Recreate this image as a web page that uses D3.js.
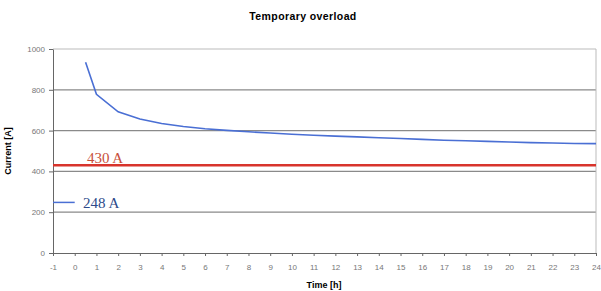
<!DOCTYPE html>
<meta charset="utf-8">
<style>
body { margin: 0; background: #fff; }
text { font-family: Arial, "Liberation Sans", sans-serif; }
.axis .domain { stroke: #666; }
.axis line { stroke: #666; }
.axis text { fill: #777; font-size: 8px; }
</style>
<body>
<svg width="601" height="291" id="chart"></svg>
<script src="https://d3js.org/d3.v7.min.js"></script>
<script>
// time [h] and current [A] of the overload curve
var hours = [0.5, 1, 2, 3, 4, 5, 6, 7, 8, 9, 10, 11, 12, 13, 14, 15, 16, 17, 18, 19, 20, 21, 22, 23, 24];
var current = [935, 778, 692, 657, 635, 620, 609, 601, 594, 588, 582, 577, 573, 569, 565, 561, 557, 553, 550, 547, 544, 541, 539, 537, 536];
var limitValue = 430;
var ratedValue = 248;
var ratedSpan = [-1, 0];
var xTicks = d3.range(-1, 25);
var yTicks = [0, 200, 400, 600, 800, 1000];

var svg = d3.select("#chart"),
    margin = {top: 49, right: 5, bottom: 38, left: 53},
    width = +svg.attr("width") - margin.left - margin.right,
    height = +svg.attr("height") - margin.top - margin.bottom;

var x = d3.scaleLinear().domain([-1, 24]).range([0, width]);
var y = d3.scaleLinear().domain([0, 1000]).range([height, 0]);

var g = svg.append("g").attr("transform", "translate(" + margin.left + "," + margin.top + ")");

// grid
g.selectAll(".grid").data(yTicks.slice(1, 5)).enter().append("line")
    .attr("x1", 0).attr("x2", width)
    .attr("y1", function(d) { return y(d); }).attr("y2", function(d) { return y(d); })
    .attr("stroke", "#8a8a8a").attr("stroke-width", 1.2);
g.append("line").attr("x1", 0).attr("x2", width).attr("y1", y(1000)).attr("y2", y(1000))
    .attr("stroke", "#bbb");
g.append("line").attr("x1", width).attr("x2", width).attr("y1", y(1000)).attr("y2", y(0))
    .attr("stroke", "#bbb");

g.append("g").attr("class", "axis")
    .attr("transform", "translate(0," + height + ")")
    .call(d3.axisBottom(x).tickValues(xTicks).tickFormat(function(d) { return String(d); })
      .tickSize(3).tickPadding(8).tickSizeOuter(0));
g.append("g").attr("class", "axis")
    .call(d3.axisLeft(y).tickValues(yTicks).tickFormat(function(d) { return String(d); })
      .tickSize(4).tickPadding(4).tickSizeOuter(0));

// limit line
g.append("line").attr("x1", 0).attr("x2", width)
    .attr("y1", y(limitValue)).attr("y2", y(limitValue))
    .attr("stroke", "#d8342c").attr("stroke-width", 2.5);

// rated line
g.append("line").attr("x1", x(ratedSpan[0])).attr("x2", x(ratedSpan[1]))
    .attr("y1", y(ratedValue)).attr("y2", y(ratedValue))
    .attr("stroke", "#4a6fd4").attr("stroke-width", 1.5);

// overload curve
var line = d3.line()
    .x(function(d, i) { return x(hours[i]); })
    .y(function(d) { return y(d); });
g.append("path").datum(current)
    .attr("fill", "none").attr("stroke", "#4a6fd4").attr("stroke-width", 1.6)
    .attr("d", line);

g.append("text").attr("x", x(0.56)).attr("y", y(limitValue) - 2)
    .style("font-family", "'Liberation Serif', 'Times New Roman', serif")
    .style("font-size", "15px").attr("fill", "#c8503a").text(limitValue + " A");
g.append("text").attr("x", x(0.38)).attr("y", y(ratedValue)).attr("dy", "0.35em")
    .style("font-family", "'Liberation Serif', 'Times New Roman', serif")
    .style("font-size", "15px").attr("fill", "#2d4a8a").text(ratedValue + " A");

// titles
svg.append("text").attr("x", 303).attr("y", 20).attr("text-anchor", "middle")
    .style("font-size", "10.5px").style("font-weight", "bold").style("letter-spacing", "0.4px")
    .text("Temporary overload");
svg.append("text").attr("x", 324).attr("y", 288).attr("text-anchor", "middle")
    .style("font-size", "9px").style("font-weight", "bold").text("Time [h]");
svg.append("text").attr("transform", "translate(11," + (margin.top + height / 2) + ") rotate(-90)")
    .attr("text-anchor", "middle")
    .style("font-size", "9px").style("font-weight", "bold").text("Current [A]");
</script>
</body>
